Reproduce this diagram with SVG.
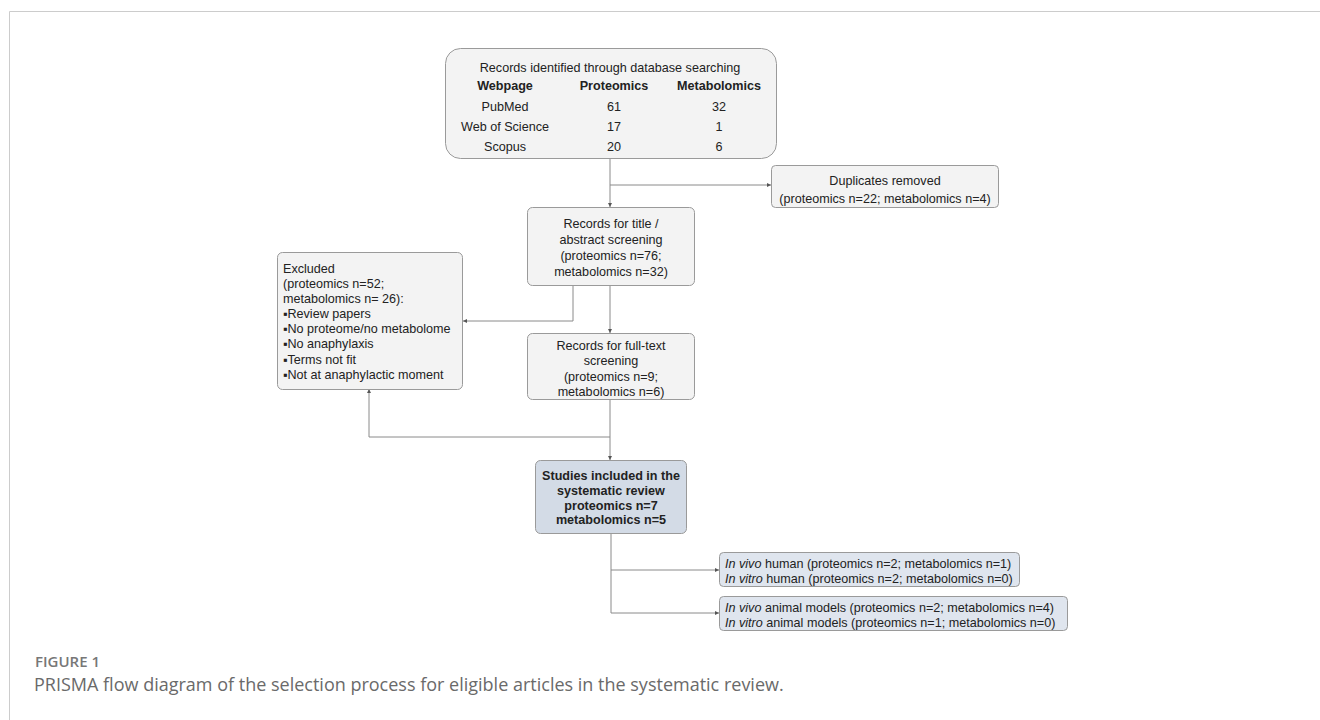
<svg xmlns="http://www.w3.org/2000/svg" width="1320" height="720" viewBox="0 0 1320 720">
<defs>
<style>
.box{fill:#f3f3f3;stroke:#9a9a9a;stroke-width:1}
.sbox{fill:#d3dbe6;stroke:#9a9a9a;stroke-width:1}
.obox{fill:#dfe5ee;stroke:#9a9a9a;stroke-width:1}
.t{font-family:"Liberation Sans",Arial,sans-serif;font-size:12.6px;fill:#222}
.c{text-anchor:middle}
.b{font-weight:bold}
.conn path{fill:none;stroke:#8a8a8a;stroke-width:1}
.frame{stroke:#cccccc;stroke-width:1;fill:none}
.cap1{font-family:"Open Sans","Liberation Sans",sans-serif;font-size:15px;fill:#777;font-weight:600}
.cap2{font-family:"Open Sans","Liberation Sans",sans-serif;font-size:18px;fill:#6a6a6a}
</style>
<marker id="ah" viewBox="0 0 6 6" refX="6" refY="3" markerWidth="4" markerHeight="4" orient="auto">
<path d="M0,0 L6,3 L0,6 z" fill="#555"/>
</marker>
</defs>
<rect width="1320" height="720" fill="#ffffff"/>
<path class="frame" d="M9.5,720 V11.5 H1320"/>

<g id="connectors" class="conn">
<path d="M610,158 V207" marker-end="url(#ah)"/>
<path d="M610,185 H771" marker-end="url(#ah)"/>
<path d="M573,285 V321 H463" marker-end="url(#ah)"/>
<path d="M610,285 V333" marker-end="url(#ah)"/>
<path d="M610,399 V460" marker-end="url(#ah)"/>
<path d="M610,437 H369 V389" marker-end="url(#ah)"/>
<path d="M611,533 V613 H719" marker-end="url(#ah)"/>
<path d="M611,570 H719" marker-end="url(#ah)"/>
</g>

<g id="records-identified">
<rect class="box" x="445.5" y="48.5" width="331" height="110" rx="15"/>
<text class="t c" x="610" y="71.5">Records identified through database searching</text>
<text class="t c b" x="505" y="90">Webpage</text>
<text class="t c b" x="614" y="90">Proteomics</text>
<text class="t c b" x="719" y="90">Metabolomics</text>
<text class="t c" x="505" y="110.5">PubMed</text>
<text class="t c" x="614" y="110.5">61</text>
<text class="t c" x="719" y="110.5">32</text>
<text class="t c" x="505" y="130.5">Web of Science</text>
<text class="t c" x="614" y="130.5">17</text>
<text class="t c" x="719" y="130.5">1</text>
<text class="t c" x="505" y="150.5">Scopus</text>
<text class="t c" x="614" y="150.5">20</text>
<text class="t c" x="719" y="150.5">6</text>
</g>

<g id="duplicates">
<rect class="box" x="771.5" y="165.5" width="227" height="42" rx="4"/>
<text class="t c" x="885" y="184.5">Duplicates removed</text>
<text class="t c" x="885" y="202.5">(proteomics n=22; metabolomics n=4)</text>
</g>

<g id="title-abstract">
<rect class="box" x="527.5" y="207.5" width="167" height="78" rx="5"/>
<text class="t c" x="611" y="228">Records for title /</text>
<text class="t c" x="611" y="244">abstract screening</text>
<text class="t c" x="611" y="260">(proteomics n=76;</text>
<text class="t c" x="611" y="276">metabolomics n=32)</text>
</g>

<g id="excluded">
<rect class="box" x="277.5" y="252.5" width="185" height="137" rx="5"/>
<text class="t" x="283" y="272.5">Excluded</text>
<text class="t" x="283" y="287.5">(proteomics n=52;</text>
<text class="t" x="283" y="302.5">metabolomics n= 26):</text>
<text class="t" x="283" y="318">▪Review papers</text>
<text class="t" x="283" y="333">▪No proteome/no metabolome</text>
<text class="t" x="283" y="348">▪No anaphylaxis</text>
<text class="t" x="283" y="363.5">▪Terms not fit</text>
<text class="t" x="283" y="378.5">▪Not at anaphylactic moment</text>
</g>

<g id="full-text">
<rect class="box" x="527.5" y="333.5" width="167" height="66" rx="5"/>
<text class="t c" x="611" y="349.5">Records for full-text</text>
<text class="t c" x="611" y="365">screening</text>
<text class="t c" x="611" y="380.5">(proteomics n=9;</text>
<text class="t c" x="611" y="396">metabolomics n=6)</text>
</g>

<g id="included">
<rect class="sbox" x="535.5" y="460.5" width="151" height="73" rx="5"/>
<text class="t c b" x="611" y="479.5">Studies included in the</text>
<text class="t c b" x="611" y="494.5">systematic review</text>
<text class="t c b" x="611" y="509.5">proteomics n=7</text>
<text class="t c b" x="611" y="524">metabolomics n=5</text>
</g>

<g id="human">
<rect class="obox" x="719.5" y="552.5" width="300" height="34" rx="4"/>
<text class="t" x="725" y="567.5"><tspan font-style="italic">In vivo</tspan> human (proteomics n=2; metabolomics n=1)</text>
<text class="t" x="725" y="582.5"><tspan font-style="italic">In vitro</tspan> human (proteomics n=2; metabolomics n=0)</text>
</g>

<g id="animal">
<rect class="obox" x="719.5" y="596.5" width="348" height="34" rx="4"/>
<text class="t" x="725" y="611.5"><tspan font-style="italic">In vivo</tspan> animal models (proteomics n=2; metabolomics n=4)</text>
<text class="t" x="725" y="626.5"><tspan font-style="italic">In vitro</tspan> animal models (proteomics n=1; metabolomics n=0)</text>
</g>

<g id="caption">
<text class="cap1" x="35" y="667">FIGURE 1</text>
<text class="cap2" x="34" y="691">PRISMA flow diagram of the selection process for eligible articles in the systematic review.</text>
</g>
</svg>
